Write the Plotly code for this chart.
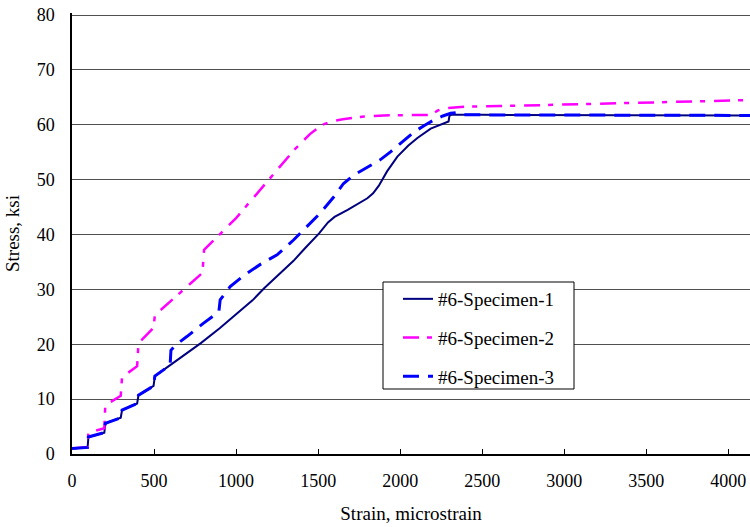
import plotly.graph_objects as go

# Specimen 1 (solid navy)
x1 = [0, 95, 100, 197, 203, 297, 305, 397, 405, 497, 505, 600, 700, 785, 900, 1000, 1100, 1171, 1250, 1350,
      1420, 1506, 1560, 1600, 1680, 1760, 1800, 1835, 1870, 1920, 1983, 2050, 2105, 2186, 2250, 2295, 2300, 2310,
      2500, 3000, 3500, 4132]
y1 = [1.0, 1.2, 3.1, 3.9, 5.6, 6.6, 8.0, 9.2, 10.7, 12.4, 14.2, 16.2, 18.3, 20.2, 22.9, 25.4, 28.0, 30.2, 32.4, 35.2,
      37.5, 40.2, 42.2, 43.2, 44.5, 45.8, 46.6, 47.5, 48.9, 51.5, 54.2, 56.2, 57.6, 59.3, 60.1, 60.6, 61.6, 61.8,
      61.8, 61.8, 61.7, 61.7]

# Specimen 2 (magenta long-dash-dot)
x2 = [0, 95, 100, 197, 203, 297, 305, 397, 405, 497, 505, 600, 700, 795, 805, 867, 1000, 1100, 1202, 1300,
      1354, 1450, 1520, 1577, 1650, 1780, 1900, 2186, 2230, 2267, 2389, 2612, 2897, 3500, 4132]
y2 = [1.0, 1.3, 3.9, 4.7, 8.9, 10.6, 14.0, 16.0, 20.2, 23.0, 25.3, 27.8, 30.5, 33.0, 37.2, 39.1, 43.0, 46.5, 50.0, 53.4,
      55.4, 58.3, 59.9, 60.6, 61.0, 61.5, 61.7, 61.8, 62.6, 63.0, 63.3, 63.4, 63.6, 64.0, 64.5]

# Specimen 3 (blue dashed)
x3 = [0, 95, 100, 197, 203, 297, 305, 397, 405, 497, 505, 598, 603, 633, 700, 800, 895, 903, 964, 1050, 1150,
      1250, 1350, 1440, 1513, 1600, 1655, 1716, 1800, 1878, 1943, 2020, 2085, 2150, 2207, 2260, 2308, 2340,
      2380, 2500, 3000, 3500, 4132]
y3 = [1.0, 1.2, 3.1, 3.9, 5.6, 6.6, 8.0, 9.2, 10.7, 12.4, 14.2, 16.2, 18.9, 19.9, 21.4, 23.8, 25.9, 28.1, 30.5, 32.6, 34.6,
      36.3, 39.0, 41.6, 43.9, 47.0, 49.3, 50.8, 52.2, 53.6, 55.1, 57.0, 58.7, 59.9, 60.9, 61.6, 62.1, 62.2,
      61.8, 61.8, 61.8, 61.7, 61.7]

names = ["#6-Specimen-1", "#6-Specimen-2", "#6-Specimen-3"]
xticks = [0, 500, 1000, 1500, 2000, 2500, 3000, 3500, 4000]
yticks = [0, 10, 20, 30, 40, 50, 60, 70, 80]

FONT = "Liberation Serif"

fig = go.Figure()
fig.add_trace(go.Scatter(x=x1, y=y1, mode="lines", name=names[0], legendgroup="a",
                         line=dict(color="#000080", width=2)))
fig.add_trace(go.Scatter(x=x2, y=y2, mode="lines", name=names[1], legendgroup="b",
                         line=dict(color="#FF00FF", width=2.5, dash="16px,8px,5px,9px")))
fig.add_trace(go.Scatter(x=x3, y=y3, mode="lines", name=names[2], legendgroup="c",
                         line=dict(color="#0000FF", width=3, dash="16px,9px")))

# window pixel positions of the reference plot
PL, PR, PB = 72, 750, 454
Y80 = 15              # pixel row of the 80 gridline
PT = 13               # plot area top (2px above the 80 line so plotly keeps that gridline)
W, H = 750, 527
L, T, B = PL, PT, H - PB
pw, ph = PR - PL, PB - PT
ymax = yticks[-1] * ph / (PB - Y80)

def px2paper_x(px):
    return (px - PL) / pw

def px2paper_y(py):
    return (PB - py) / ph

# legend frame
fig.add_shape(type="rect", xref="paper", yref="paper",
              x0=px2paper_x(383), x1=px2paper_x(574), y0=px2paper_y(389), y1=px2paper_y(282),
              fillcolor="white", line=dict(color="black", width=1), layer="above")

fig.update_layout(
    width=W, height=H,
    margin=dict(l=L, r=0, t=T, b=B, autoexpand=False),
    paper_bgcolor="white", plot_bgcolor="white",
    font=dict(family=FONT, size=18, color="black"),
    showlegend=True,
    legend=dict(x=px2paper_x(398), y=px2paper_y(280), xanchor="left", yanchor="top",
                bgcolor="rgba(0,0,0,0)", borderwidth=0, font=dict(size=19, family=FONT),
                tracegroupgap=11, traceorder="grouped"),
    xaxis=dict(range=[0, 4132], tickvals=xticks, ticktext=[str(v) for v in xticks],
               ticks="inside", ticklen=5, tickcolor="black", showgrid=False, zeroline=False,
               showline=True, linecolor="black", linewidth=1.5, ticklabelstandoff=10,
               title=dict(text="Strain, microstrain", font=dict(size=19, family=FONT), standoff=16)),
    yaxis=dict(range=[0, ymax], tickvals=yticks, ticktext=[str(v) for v in yticks],
               ticks="", showgrid=True, gridcolor="#505050", gridwidth=1, zeroline=False,
               showline=True, linecolor="black", linewidth=1.5, ticklabelstandoff=12,
               title=dict(text="Stress, ksi", font=dict(size=19, family=FONT), standoff=12)),
)

fig.write_html("out.html", config={"displayModeBar": False},
               post_script="document.body.style.margin='0';document.body.style.padding='0';")
